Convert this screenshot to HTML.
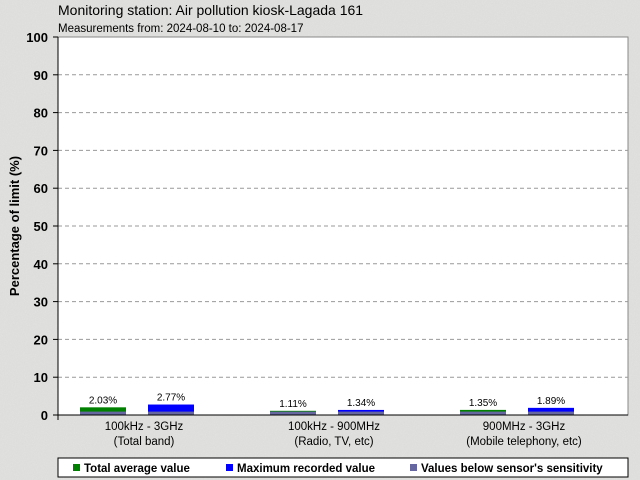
<!DOCTYPE html>
<html><head><meta charset="utf-8"><style>
body{margin:0;width:640px;height:480px;overflow:hidden;background:#e2e2e0;font-family:"Liberation Sans",sans-serif}
svg{display:block}
</style></head><body>
<svg id="c" width="640" height="480">
<defs><filter id="n"><feTurbulence type="fractalNoise" baseFrequency="0.9" numOctaves="2" result="t"/><feColorMatrix type="matrix" values="0 0 0 0 0.5  0 0 0 0 0.5  0 0 0 0 0.5  0 0 0 0.18 0"/></filter></defs>
<rect width="640" height="480" fill="#e2e2e0"/>
<rect width="640" height="480" filter="url(#n)"/>
<text x="58" y="15" font-size="14" fill="#000">Monitoring station: Air pollution kiosk-Lagada 161</text>
<text x="58" y="32" font-size="11.5" fill="#000">Measurements from: 2024-08-10 to: 2024-08-17</text>
<rect x="58" y="37" width="570" height="378" fill="#fff" stroke="#888"/>
<g id="grid"></g><g id="bars"></g><g id="axes"></g>
<text transform="translate(19,226) rotate(-90)" text-anchor="middle" font-size="13" font-weight="bold">Percentage of limit (%)</text>
<rect x="58" y="458" width="570" height="19" fill="#fff" stroke="#000"/>
<g><rect x="73" y="464" width="7" height="7" fill="#008000"/><text x="84" y="472" font-size="11.5" font-weight="bold">Total average value</text></g>
<g><rect x="226" y="464" width="7" height="7" fill="#0000ff"/><text x="237" y="472" font-size="11.5" font-weight="bold">Maximum recorded value</text></g>
<g><rect x="410" y="464" width="7" height="7" fill="#6666a0"/><text x="421" y="472" font-size="11.5" font-weight="bold">Values below sensor's sensitivity</text></g>
</svg>
<script>
const categories=["100kHz - 3GHz","100kHz - 900MHz","900MHz - 3GHz"];
const subLabels=["(Total band)","(Radio, TV, etc)","(Mobile telephony, etc)"];
const avgValues=[2.03,1.11,1.35];
const maxValues=[2.77,1.34,1.89];
const sensitivity=[0.9,0.9,0.9];
const yTicks=[0,10,20,30,40,50,60,70,80,90,100];
const NS="http://www.w3.org/2000/svg";
const X0=58,W=570,Y0=415,H=378;
const y=v=>Y0-v/100*H;
const groupW=W/categories.length;
const cx=i=>X0+groupW*(i+0.5)-9;
function mk(t,a,p){const e=document.createElementNS(NS,t);for(const k in a)e.setAttribute(k,a[k]);p.appendChild(e);return e;}
const grid=document.getElementById('grid'),axes=document.getElementById('axes'),bars=document.getElementById('bars');
yTicks.forEach(t=>{
  if(t>0&&t<100){const l=mk('line',{x1:X0,x2:X0+W,y1:y(t),y2:y(t),stroke:'#999','stroke-dasharray':'4,3'},grid);
  
  }
  const tk=mk('line',{x1:X0-5,x2:X0,y1:y(t),y2:y(t),stroke:'#000'},axes);
  
  
  const tx=mk('text',{x:X0-10,y:y(t)+5,'text-anchor':'end','font-size':'13','font-weight':'bold'},axes);tx.textContent=t;
  
  
});
mk('line',{x1:X0,x2:X0,y1:37,y2:Y0+5,stroke:'#000'},axes);
mk('line',{x1:X0-5,x2:X0+W,y1:Y0,y2:Y0,stroke:'#000'},axes);
categories.forEach((c,i)=>{
  [[avgValues[i],'#008000',-64,'bar-average'],[maxValues[i],'#0000ff',4,'bar-maximum']].forEach(([v,col,off,nm])=>{
    const bx=cx(i)+off;
    const r=mk('rect',{x:bx,y:y(v),width:46,height:Y0-y(v),fill:col},bars);
    
    
    const s=mk('rect',{x:bx,y:y(Math.min(sensitivity[i],v)),width:46,height:Y0-y(Math.min(sensitivity[i],v)),fill:'#6666a0'},bars);
    
    
    const t=mk('text',{x:bx+23,y:y(v)-4,'text-anchor':'middle','font-size':'10'},bars);t.textContent=v.toFixed(2)+'%';
    
    
  });
  const l1=mk('text',{x:cx(i),y:430,'text-anchor':'middle','font-size':'11.5'},axes);l1.textContent=c;
  
  
  const l2=mk('text',{x:cx(i),y:445,'text-anchor':'middle','font-size':'11.5'},axes);l2.textContent=subLabels[i];
  
  
});
</script>
</body></html>
